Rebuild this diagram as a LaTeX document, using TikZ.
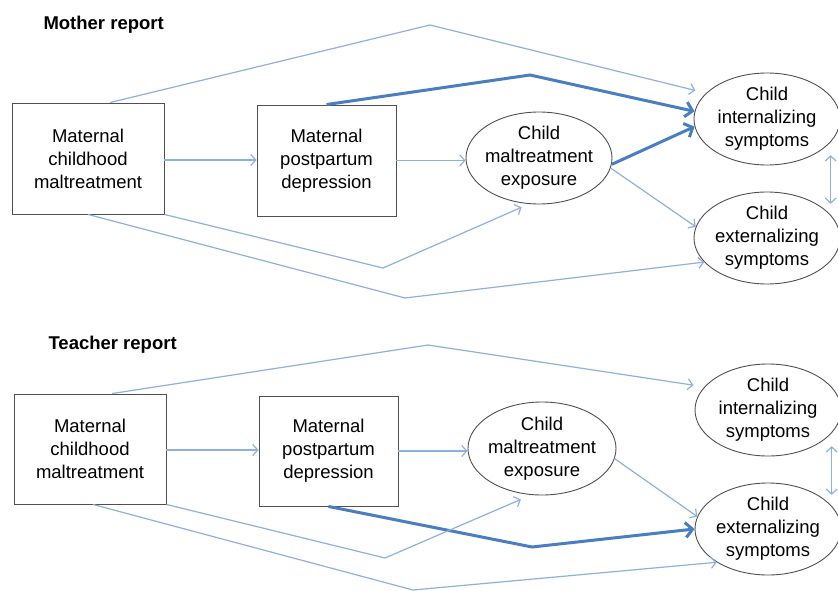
\documentclass[tikz,border=0pt]{standalone}
\usepackage{fontspec}
\setmainfont{Liberation Sans}
\usetikzlibrary{arrows.meta,shapes.geometric}
\definecolor{paththin}{RGB}{141,176,222}
\definecolor{paththick}{RGB}{74,126,194}
\definecolor{boxline}{RGB}{80,80,80}
\tikzset{
  varbox/.style={draw=boxline,line width=0.9pt,align=center,inner sep=0pt},
  varoval/.style={ellipse,draw=boxline,line width=0.9pt,align=center,inner xsep=-3pt,inner ysep=0pt,
    minimum width=146pt,minimum height=92pt},
  thinpath/.style={draw=paththin,line width=1.2pt,-{Straight Barb[length=5pt,width=11pt]}},
  thickpath/.style={draw=paththick,line width=3pt,-{Straight Barb[length=7pt,width=15pt]}},
  twoway/.style={draw=paththin,line width=1.2pt,{Straight Barb[length=5pt,width=11pt]}-{Straight Barb[length=5pt,width=11pt]}},
  paneltitle/.style={font=\fontsize{18.5}{23}\selectfont\bfseries,anchor=west}
}
\begin{document}
\begin{tikzpicture}[x=1pt,y=-1pt,font=\fontsize{18.5}{23}\selectfont]
    \useasboundingbox (0,0) rectangle (838,591);

    % Mother report panel
    \node[paneltitle] (titleM) at (40,25) {Mother report};
    \node[varbox,minimum width=152pt,minimum height=111pt] (mcmM) at (88,158.5) {Maternal\\childhood\\maltreatment};
    \node[varbox,minimum width=139pt,minimum height=111pt] (ppdM) at (326.5,160.5) {Maternal\\postpartum\\depression};
    \node[varoval] (cmeM) at (539,158) {Child\\maltreatment\\exposure};
    \node[varoval] (intM) at (767,119) {Child\\internalizing\\symptoms};
    \node[varoval] (extM) at (767,238) {Child\\externalizing\\symptoms};

    % Bend points
    \coordinate (topM) at (430,25);
    \coordinate (peakM) at (530,75);
    \coordinate (lowM) at (383,268);
    \coordinate (floorM) at (405,298);

    % Paths
    \draw[thinpath] ([yshift=-1.5pt]mcmM.east) -- ([yshift=-1.5pt]mcmM.east -| ppdM.west);
    \draw[thinpath] (ppdM.east) -- (ppdM.east -| cmeM.west);
    \draw[thinpath,shorten >=11pt] ([xshift=22pt]mcmM.north) -- (topM) -- (intM.157);
    \draw[thickpath] (ppdM.north) -- (peakM) -- (intM.174);
    \draw[thickpath] (cmeM.-5) -- (intM.186);
    \draw[thinpath] (cmeM.-8) -- (extM.171);
    \draw[thinpath,shorten >=7pt] (mcmM.south east) -- (lowM) -- ([xshift=-11pt]cmeM.south);
    \draw[thinpath] (mcmM.south) -- (floorM) -- (extM.201);
    \draw[twoway,shorten <=13pt,shorten >=11pt] (intM.-20) -- (extM.20);

    % Teacher report panel
    \node[paneltitle] (titleT) at (45,345) {Teacher report};
    \node[varbox,minimum width=152pt,minimum height=110pt] (mcmT) at (90,449) {Maternal\\childhood\\maltreatment};
    \node[varbox,minimum width=139pt,minimum height=110pt] (ppdT) at (328.5,451) {Maternal\\postpartum\\depression};
    \node[varoval,minimum width=148pt,minimum height=93pt] (cmeT) at (542,448.5) {Child\\maltreatment\\exposure};
    \node[varoval] (intT) at (768,410) {Child\\internalizing\\symptoms};
    \node[varoval] (extT) at (768,529) {Child\\externalizing\\symptoms};

    % Bend points
    \coordinate (topT) at (428,345);
    \coordinate (peakT) at (532,547);
    \coordinate (lowT) at (385,558);
    \coordinate (floorT) at (413,590);

    % Paths
    \draw[thinpath] ([yshift=-1pt]mcmT.east) -- ([yshift=-1pt]mcmT.east -| ppdT.west);
    \draw[thinpath] (ppdT.east) -- (ppdT.east -| cmeT.west);
    \draw[thinpath,shorten >=11pt] ([xshift=22pt]mcmT.north) -- (topT) -- (intT.160);
    \draw[thickpath] (ppdT.south) -- (peakT) -- (extT.west);
    \draw[thinpath] (cmeT.-8) -- (extT.170);
    \draw[thinpath,shorten >=10pt] (mcmT.south east) -- (lowT) -- ([xshift=-12pt]cmeT.south);
    \draw[thinpath] ([xshift=3pt]mcmT.south) -- (floorT) -- (extT.213);
    \draw[twoway,shorten <=13pt,shorten >=11pt] (intT.-20) -- (extT.20);
\end{tikzpicture}
\end{document}
